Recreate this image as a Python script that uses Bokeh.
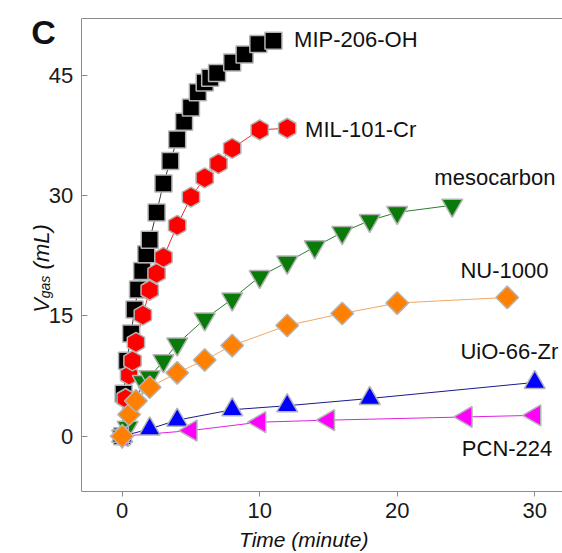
import math
from bokeh.plotting import figure
from bokeh.models import Range1d, FixedTicker, LinearAxis, Label
from bokeh.embed import file_html
from bokeh.resources import INLINE

# ---- data ----
mip_t = [0, 0.1, 0.35, 0.65, 0.9, 1.15, 1.45, 1.75, 2.0, 2.5, 3.0, 3.5, 4.0, 4.5, 5.0, 5.5, 6.0, 6.4, 6.9, 8.0, 8.9, 9.9, 11.0]
mip_v = [0, 5.3, 9.4, 12.8, 15.8, 18.3, 20.6, 22.7, 24.5, 27.9, 31.5, 34.3, 37.0, 39.2, 41.0, 42.9, 44.1, 44.7, 45.3, 46.6, 47.6, 48.9, 49.3]

mil_t = [0, 0.25, 0.5, 0.75, 1.0, 1.5, 2.0, 2.5, 3.0, 4.0, 5.0, 6.0, 7.0, 8.0, 10.0, 12.0]
mil_v = [0, 4.7, 7.6, 9.4, 11.7, 15.1, 18.2, 20.3, 22.3, 26.3, 29.8, 32.2, 34.0, 35.9, 38.2, 38.4]

meso_t = [0, 0.4, 1.5, 2.0, 3.0, 4.0, 6.0, 8.0, 10.0, 12.0, 14.0, 16.0, 18.0, 20.0, 24.0]
meso_v = [0, 1.1, 6.8, 7.4, 9.4, 11.5, 14.6, 17.1, 19.9, 21.7, 23.6, 25.4, 26.9, 27.9, 28.8]

nu_t = [0, 0.5, 1.0, 2.0, 4.0, 6.0, 8.0, 12.0, 16.0, 20.0, 28.0]
nu_v = [0, 2.7, 4.4, 6.1, 7.9, 9.5, 11.3, 13.8, 15.3, 16.6, 17.3]

uio_t = [0, 2, 4, 8, 12, 18, 30]
uio_v = [0, 0.9, 2.0, 3.3, 3.8, 4.7, 6.7]

pcn_t = [0, 5, 10, 15, 25, 30]
pcn_v = [0, 0.7, 1.75, 2.0, 2.4, 2.6]

x_ticks = [0, 10, 20, 30]
y_ticks = [0, 15, 30, 45]

names = ["MIP-206-OH", "MIL-101-Cr", "mesocarbon", "NU-1000", "UiO-66-Zr", "PCN-224"]
name_x = [12.5, 13.3, 22.7, 24.6, 24.6, 24.7]
name_y = [49.5, 38.3, 32.3, 20.7, 10.5, -1.5]

# axes box (data units)
X0, X1 = -2.98, 32.02
Y0, Y1 = -6.9, 52.08

FONT = "Liberation Sans"
EDGE = "#b4b4b4"
AX = "#8c8c8c"

p = figure(width=562, height=553, output_backend="svg", toolbar_location=None,
           x_range=Range1d(-8.85, 32.02), y_range=Range1d(-14.63, 54.33),
           x_axis_location=None, y_axis_location=None, min_border=0)
p.outline_line_color = None
p.xgrid.visible = False
p.ygrid.visible = False
p.background_fill_color = "white"
p.border_fill_color = "white"

xax = LinearAxis(fixed_location=Y0, bounds=(X0, X1), ticker=FixedTicker(ticks=x_ticks))
yax = LinearAxis(fixed_location=X0, bounds=(Y0, Y1), ticker=FixedTicker(ticks=y_ticks))
for ax in (xax, yax):
    ax.axis_line_color = AX
    ax.major_tick_line_color = AX
    ax.minor_tick_line_color = None
    ax.major_label_text_font = FONT
    ax.major_label_text_font_size = "22px"
    ax.major_label_text_color = "#1a1a1a"
xax.major_tick_out = 5
xax.major_tick_in = 0
xax.major_label_standoff = 6
yax.major_tick_out = 0
yax.major_tick_in = 6
yax.major_label_standoff = 8
p.add_layout(xax, "below")
p.add_layout(yax, "left")

top = LinearAxis(fixed_location=Y1, bounds=(X0, X1), ticker=FixedTicker(ticks=[]),
                 axis_line_color=AX, major_label_text_font_size="0px",
                 major_tick_out=0, major_tick_in=0, minor_tick_line_color=None)
p.add_layout(top, "above")

series = [
    (mip_t, mip_v, "square", 17, "#000000", "#3a3a3a", 0),
    (mil_t, mil_v, "hex", 20, "#ff0000", "#e03030", math.pi / 6),
    (meso_t, meso_v, "inverted_triangle", 21, "#0a7a0a", "#2e7d2e", 0),
    (uio_t, uio_v, "triangle", 21, "#0000ff", "#1a1a8c", 0),
    (pcn_t, pcn_v, "triangle", 21, "#ff00ff", "#e020e0", math.pi / 2),
    (nu_t, nu_v, "square", 16, "#ff8000", "#f0a860", math.pi / 4),
]
for t, v, marker, size, fill, lc, ang in series:
    p.line(t, v, line_color=lc, line_width=1)
for t, v, marker, size, fill, lc, ang in series:
    p.scatter(t, v, marker=marker, size=size, angle=ang, fill_color=fill,
              line_color=EDGE, line_width=1.5)


def dlabel(x, y, text, size, style="normal", angle=0.0, align="left", baseline="middle"):
    p.add_layout(Label(x=x, y=y, text=text, text_font=FONT, text_font_size=size,
                       text_font_style=style, angle=angle, text_align=align,
                       text_baseline=baseline, text_color="#111111"))


for n, x, y in zip(names, name_x, name_y):
    dlabel(x, y, n, "22px")

# panel letter
dlabel(-5.72, 50.46, "C", "34px", "bold", align="center")
# x axis title
dlabel(13.2, -12.9, "Time (minute)", "21px", "italic", align="center")
# y axis title: V_gas (mL)
dlabel(-5.87, 15.4, "V", "22px", "italic", math.pi / 2, baseline="alphabetic")
dlabel(-5.58, 17.2, "gas", "14px", "italic", math.pi / 2, baseline="alphabetic")
dlabel(-5.87, 20.8, "(mL)", "22px", "italic", math.pi / 2, baseline="alphabetic")

open("out.html", "w").write(file_html(p, INLINE))
